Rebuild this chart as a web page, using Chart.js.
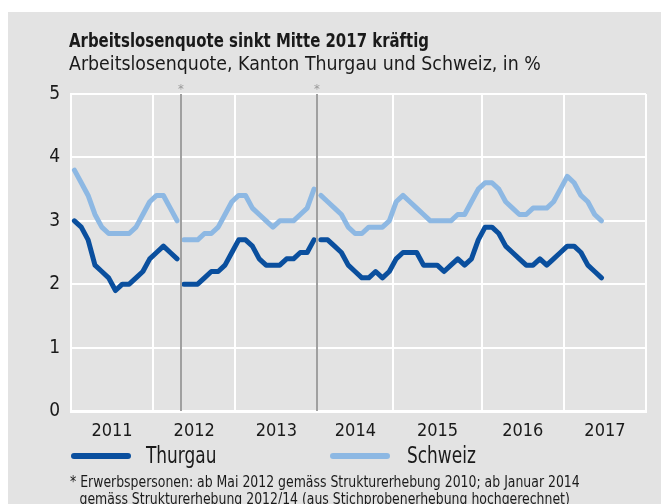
<!DOCTYPE html>
<html>
<head>
<meta charset="utf-8">
<script src="https://cdn.jsdelivr.net/npm/chart.js@4.4.1/dist/chart.umd.min.js"></script>
<style>
  html, body { margin: 0; padding: 0; background: #fff; }
  body { width: 661px; height: 504px; position: relative; overflow: hidden;
         font-family: "Liberation Sans Narrow", "DejaVu Sans Condensed", "Liberation Sans", sans-serif; color: #1a1a1a; }
  #panel { position: absolute; left: 8px; top: 12px; right: 0; bottom: 0; background: #e3e3e3; }
  #wrap { position: absolute; left: 0; top: 0; width: 661px; height: 504px; }
  .title, .subtitle, .lg-text, .foot { transform-origin: 0 0; }
  .title { position: absolute; left: 69px; top: 28px; font-weight: bold; font-size: 20px; white-space: nowrap; transform: scaleX(0.83); }
  .subtitle { position: absolute; left: 69px; top: 51px; font-size: 20px; white-space: nowrap; transform: scaleX(0.967); }
  .lg-line { position: absolute; top: 453px; width: 60px; height: 6px; border-radius: 3px; }
  .lg-text { position: absolute; top: 442px; font-size: 23px; white-space: nowrap; transform: scaleX(0.82); }
  .foot { position: absolute; left: 70px; top: 473px; font-size: 16px; line-height: 17px; white-space: nowrap; transform: scaleX(0.866); }
  .foot .l2 { padding-left: 11px; }
</style>
</head>
<body>
<div id="panel"></div>
<div id="wrap"><canvas id="chart" width="661" height="504"></canvas></div>
<div class="title">Arbeitslosenquote sinkt Mitte 2017 kräftig</div>
<div class="subtitle">Arbeitslosenquote, Kanton Thurgau und Schweiz, in %</div>
<div class="lg-line" style="left:71px;background:#0a4f9e"></div>
<div class="lg-text" style="left:146px">Thurgau</div>
<div class="lg-line" style="left:330px;background:#8db8e3"></div>
<div class="lg-text" style="left:407px">Schweiz</div>
<div class="foot">* Erwerbspersonen: ab Mai 2012 gemäss Strukturerhebung 2010; ab Januar 2014<br><span class="l2">gemäss Strukturerhebung 2012/14 (aus Stichprobenerhebung hochgerechnet)</span></div>
<script>
// Monatswerte Januar 2011 bis Juni 2017
const yearLabels = ['2011', '2012', '2013', '2014', '2015', '2016', '2017'];
const yTicks = [0, 1, 2, 3, 4, 5];

const thurgau = [
  3.0, 2.9, 2.7, 2.3, 2.2, 2.1, 1.9, 2.0, 2.0, 2.1, 2.2, 2.4,
  2.5, 2.6, 2.5, 2.4, 2.0, 2.0, 2.0, 2.1, 2.2, 2.2, 2.3, 2.5,
  2.7, 2.7, 2.6, 2.4, 2.3, 2.3, 2.3, 2.4, 2.4, 2.5, 2.5, 2.7,
  2.7, 2.7, 2.6, 2.5, 2.3, 2.2, 2.1, 2.1, 2.2, 2.1, 2.2, 2.4,
  2.5, 2.5, 2.5, 2.3, 2.3, 2.3, 2.2, 2.3, 2.4, 2.3, 2.4, 2.7,
  2.9, 2.9, 2.8, 2.6, 2.5, 2.4, 2.3, 2.3, 2.4, 2.3, 2.4, 2.5,
  2.6, 2.6, 2.5, 2.3, 2.2, 2.1
];
const schweiz = [
  3.8, 3.6, 3.4, 3.1, 2.9, 2.8, 2.8, 2.8, 2.8, 2.9, 3.1, 3.3,
  3.4, 3.4, 3.2, 3.0, 2.7, 2.7, 2.7, 2.8, 2.8, 2.9, 3.1, 3.3,
  3.4, 3.4, 3.2, 3.1, 3.0, 2.9, 3.0, 3.0, 3.0, 3.1, 3.2, 3.5,
  3.4, 3.3, 3.2, 3.1, 2.9, 2.8, 2.8, 2.9, 2.9, 2.9, 3.0, 3.3,
  3.4, 3.3, 3.2, 3.1, 3.0, 3.0, 3.0, 3.0, 3.1, 3.1, 3.3, 3.5,
  3.6, 3.6, 3.5, 3.3, 3.2, 3.1, 3.1, 3.2, 3.2, 3.2, 3.3, 3.5,
  3.7, 3.6, 3.4, 3.3, 3.1, 3.0
];
// Strukturbrüche: Mai 2012 und Januar 2014 (Index des ersten Monats)
const breaks = [16, 36];

const fontFamily = '"Liberation Sans Narrow", "DejaVu Sans Condensed", "Liberation Sans", sans-serif';

function toPoints(values) {
  const pts = [];
  values.forEach((v, i) => {
    if (breaks.includes(i)) pts.push({ x: i, y: null });
    pts.push({ x: i + 0.5, y: v });
  });
  return pts;
}

// Jahresgrenzen (Gitterlinien), 2015 leicht verschoben wie im Original
const yearEdges = [0, 12, 24, 36, 47.1, 60, 72, 84];
const labelPos = yearEdges.slice(0, -1).map((e, i) => (e + yearEdges[i + 1]) / 2);

const breakLines = {
  id: 'breakLines',
  afterDatasetsDraw(chart) {
    const { ctx, chartArea, scales } = chart;
    ctx.save();
    breaks.forEach(b => {
      const x = Math.round(scales.x.getPixelForValue(b));
      ctx.strokeStyle = '#a0a0a0';
      ctx.lineWidth = 2;
      ctx.beginPath();
      ctx.moveTo(x, chartArea.top);
      ctx.lineTo(x, chartArea.bottom);
      ctx.stroke();
      ctx.fillStyle = '#999999';
      ctx.font = '13px ' + fontFamily;
      ctx.textAlign = 'center';
      ctx.fillText('*', x, chartArea.top - 1);
    });
    ctx.restore();
  }
};

new Chart(document.getElementById('chart'), {
  type: 'line',
  data: {
    datasets: [
      {
        label: 'Schweiz',
        data: toPoints(schweiz),
        borderColor: '#8db8e3',
        borderWidth: 5,
      },
      {
        label: 'Thurgau',
        data: toPoints(thurgau),
        borderColor: '#0a4f9e',
        borderWidth: 5,
      }
    ]
  },
  options: {
    responsive: false,
    animation: false,
    spanGaps: false,
    elements: {
      point: { radius: 0, hoverRadius: 0 },
      line: { tension: 0, borderCapStyle: 'round', borderJoinStyle: 'round' }
    },
    layout: { padding: { left: 31, top: 94, right: 15, bottom: 53 } },
    plugins: { legend: { display: false }, tooltip: { enabled: false } },
    scales: {
      x: {
        type: 'linear',
        min: 0,
        max: 84,
        afterBuildTicks: (scale) => {
          scale.ticks = yearEdges.concat(labelPos).sort((a, b) => a - b).map(v => ({ value: v }));
        },
        afterFit: (scale) => { scale.height = 40; },
        grid: {
          drawTicks: false,
          lineWidth: 2,
          color: (c) => yearEdges.includes(c.tick && c.tick.value) ? '#ffffff' : 'rgba(0,0,0,0)'
        },
        border: { color: '#ffffff', width: 3 },
        ticks: {
          autoSkip: false,
          maxRotation: 0,
          padding: 10,
          color: '#1a1a1a',
          font: { family: fontFamily, size: 18 },
          callback: (v) => {
            const i = labelPos.indexOf(v);
            return i >= 0 ? yearLabels[i] : '';
          }
        }
      },
      y: {
        min: 0,
        max: 5,
        afterBuildTicks: (scale) => { scale.ticks = yTicks.map(v => ({ value: v })); },
        afterFit: (scale) => { scale.width = 40; },
        grid: { drawTicks: false, lineWidth: 2, color: '#ffffff' },
        border: { color: '#ffffff', width: 2 },
        ticks: {
          padding: 11,
          color: '#1a1a1a',
          font: { family: fontFamily, size: 19 }
        }
      }
    }
  },
  plugins: [breakLines]
});
</script>
</body>
</html>
